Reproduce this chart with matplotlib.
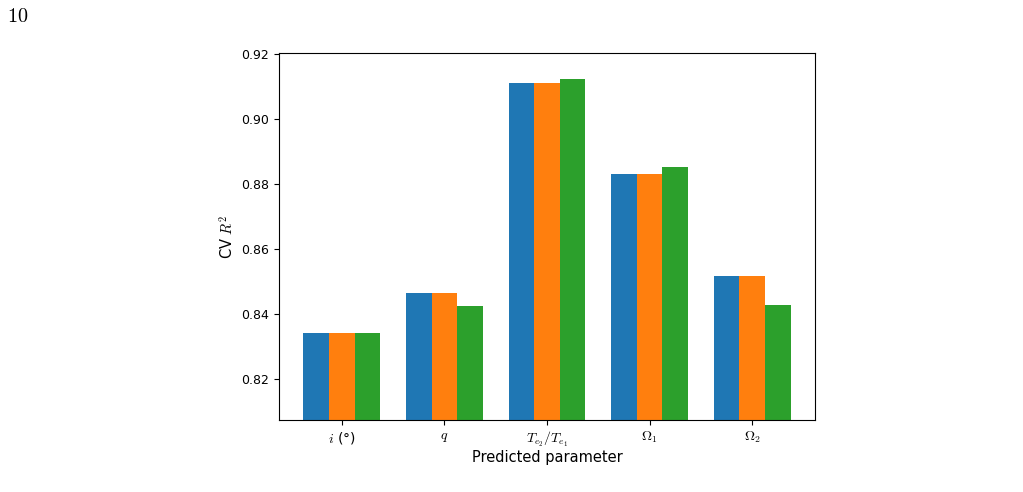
import numpy as np
import matplotlib
matplotlib.use("Agg")
import matplotlib.pyplot as plt

plt.rcParams['mathtext.fontset'] = 'cm'

# CV R^2 per predicted parameter, three models
params = [r'$i$ (°)', r'$q$', r'$T_{e_2}/T_{e_1}$', r'$\Omega_1$', r'$\Omega_2$']
r2_a = [0.8342, 0.8463, 0.9112, 0.8831, 0.8516]
r2_b = [0.8342, 0.8463, 0.9112, 0.8831, 0.8516]
r2_c = [0.8342, 0.8423, 0.9122, 0.8853, 0.8427]

fig = plt.figure(figsize=(10.23, 4.92), dpi=100)
ax = fig.add_axes([0.2727, 0.1463, 0.5240, 0.7460])

x = np.arange(len(params))
width = 0.25
ax.bar(x - width, r2_a, width)
ax.bar(x, r2_b, width)
ax.bar(x + width, r2_c, width)

ax.set_xticks(x)
ax.set_xticklabels(params)
ax.set_xlim(-0.6125, 4.6125)
ax.set_ylim(0.8073, 0.9203)
ax.set_yticks([0.82, 0.84, 0.86, 0.88, 0.90, 0.92])
ax.tick_params(axis='y', labelsize=9)
ax.set_xlabel('Predicted parameter', fontsize=10.5, labelpad=1)
ax.set_ylabel(r'CV $R^2$', fontsize=10.5)

# page number from the source document
fig.text(0.007, 0.955, r'$\mathrm{10}$', fontsize=14.5)

fig.savefig('out.png', dpi=100)
